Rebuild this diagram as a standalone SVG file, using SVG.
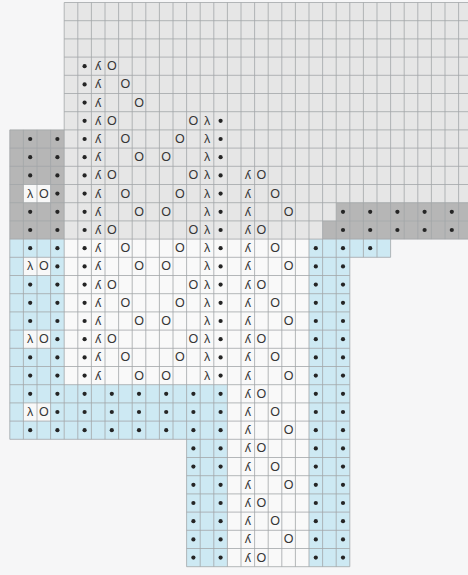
<svg xmlns="http://www.w3.org/2000/svg" xmlns:xlink="http://www.w3.org/1999/xlink" width="468" height="575" viewBox="0 0 468 575">
<style>
.s{font-family:"Liberation Sans","DejaVu Sans",sans-serif;font-size:12.5px;fill:#363636;text-anchor:middle;dominant-baseline:central}
.d{fill:#252525}
.gl{fill:none;stroke:#a2a6a8;stroke-width:0.8}
</style>
<defs>
<g id="A"><circle class="d" cx="84.6" r="2.1"/><text class="s" x="98.2">ʎ</text></g>
<g id="A2"><text class="s" x="207">λ</text><circle class="d" cx="220.6" r="2.1"/></g>
<g id="L"><circle class="d" cx="30.2" r="2.1"/><circle class="d" cx="57.4" r="2.1"/></g>
<g id="LW"><text class="s" x="30.2">λ</text><text class="s" x="43.8">O</text><circle class="d" cx="57.4" r="2.1"/></g>
<g id="B"><text class="s" x="247.8">ʎ</text></g>
<g id="R"><circle class="d" cx="315.8" r="2.1"/><circle class="d" cx="343" r="2.1"/></g>
<g id="D"><circle class="d" cx="84.6" r="2.1"/><circle class="d" cx="111.8" r="2.1"/><circle class="d" cx="139" r="2.1"/><circle class="d" cx="166.2" r="2.1"/><circle class="d" cx="193.4" r="2.1"/><circle class="d" cx="220.6" r="2.1"/></g>
<g id="DR"><circle class="d" cx="343" r="2.1"/><circle class="d" cx="370.2" r="2.1"/><circle class="d" cx="397.4" r="2.1"/><circle class="d" cx="424.6" r="2.1"/><circle class="d" cx="451.8" r="2.1"/></g>
</defs>
<rect width="468" height="575" fill="#f6f6f7"/>
<g id="chart-fills" transform="translate(9.8 2.5) scale(13.6 18.2)">
<polygon points="4,0 34,0 34,13 28,13 28,14 25,14 25,31 13,31 13,24 0,24 0,7 4,7" fill="#f9f9f9"/>
<rect x="4" y="0" width="30" height="13" fill="#e6e6e6"/>
<g fill="#b6b6b6">
<rect x="0" y="7" width="4" height="6"/>
<rect x="24" y="11" width="10" height="1"/>
<rect x="23" y="12" width="11" height="1"/>
</g>
<g fill="#cde9f3">
<rect x="0" y="13" width="4" height="11"/>
<rect x="4" y="21" width="12" height="3"/>
<rect x="13" y="24" width="3" height="7"/>
<rect x="22" y="13" width="3" height="18"/>
<rect x="25" y="13" width="3" height="1"/>
</g>
<g fill="#f8f8f8">
<rect x="1" y="10" width="2" height="1"/>
<rect x="1" y="14" width="2" height="1"/>
<rect x="1" y="18" width="2" height="1"/>
<rect x="1" y="22" width="2" height="1"/>
</g>
<path class="gl" vector-effect="non-scaling-stroke" d="M4 0H34M4 1H34M4 2H34M4 3H34M4 4H34M4 5H34M4 6H34M0 7H34M0 8H34M0 9H34M0 10H34M0 11H34M0 12H34M0 13H34M0 14H28M0 15H25M0 16H25M0 17H25M0 18H25M0 19H25M0 20H25M0 21H25M0 22H25M0 23H25M0 24H25M13 25H25M13 26H25M13 27H25M13 28H25M13 29H25M13 30H25M13 31H25M0 7V24M1 7V24M2 7V24M3 7V24M4 0V24M5 0V24M6 0V24M7 0V24M8 0V24M9 0V24M10 0V24M11 0V24M12 0V24M13 0V31M14 0V31M15 0V31M16 0V31M17 0V31M18 0V31M19 0V31M20 0V31M21 0V31M22 0V31M23 0V31M24 0V31M25 0V31M26 0V14M27 0V14M28 0V14M29 0V13M30 0V13M31 0V13M32 0V13M33 0V13M34 0V13"/>
</g>
<g id="symbols">
<g transform="translate(0 66.2)"><use href="#A"/><text class="s" x="111.8">O</text></g>
<g transform="translate(0 84.4)"><use href="#A"/><text class="s" x="125.4">O</text></g>
<g transform="translate(0 102.6)"><use href="#A"/><text class="s" x="139">O</text></g>
<g transform="translate(0 120.8)"><use href="#A"/><use href="#A2"/><text class="s" x="111.8">O</text><text class="s" x="193.4">O</text></g>
<g transform="translate(0 139)"><use href="#L"/><use href="#A"/><use href="#A2"/><text class="s" x="125.4">O</text><text class="s" x="179.8">O</text></g>
<g transform="translate(0 157.2)"><use href="#L"/><use href="#A"/><use href="#A2"/><text class="s" x="139">O</text><text class="s" x="166.2">O</text></g>
<g transform="translate(0 175.4)"><use href="#L"/><use href="#A"/><use href="#A2"/><text class="s" x="111.8">O</text><text class="s" x="193.4">O</text><use href="#B"/><text class="s" x="261.4">O</text></g>
<g transform="translate(0 193.6)"><use href="#LW"/><use href="#A"/><use href="#A2"/><text class="s" x="125.4">O</text><text class="s" x="179.8">O</text><use href="#B"/><text class="s" x="275">O</text></g>
<g transform="translate(0 211.8)"><use href="#L"/><use href="#A"/><use href="#A2"/><text class="s" x="139">O</text><text class="s" x="166.2">O</text><use href="#B"/><text class="s" x="288.6">O</text><use href="#DR"/></g>
<g transform="translate(0 230)"><use href="#L"/><use href="#A"/><use href="#A2"/><text class="s" x="111.8">O</text><text class="s" x="193.4">O</text><use href="#B"/><text class="s" x="261.4">O</text><use href="#DR"/></g>
<g transform="translate(0 248.2)"><use href="#L"/><use href="#A"/><use href="#A2"/><text class="s" x="125.4">O</text><text class="s" x="179.8">O</text><use href="#B"/><text class="s" x="275">O</text><use href="#R"/><circle class="d" cx="370.2" r="2.1"/></g>
<g transform="translate(0 266.4)"><use href="#LW"/><use href="#A"/><use href="#A2"/><text class="s" x="139">O</text><text class="s" x="166.2">O</text><use href="#B"/><text class="s" x="288.6">O</text><use href="#R"/></g>
<g transform="translate(0 284.6)"><use href="#L"/><use href="#A"/><use href="#A2"/><text class="s" x="111.8">O</text><text class="s" x="193.4">O</text><use href="#B"/><text class="s" x="261.4">O</text><use href="#R"/></g>
<g transform="translate(0 302.8)"><use href="#L"/><use href="#A"/><use href="#A2"/><text class="s" x="125.4">O</text><text class="s" x="179.8">O</text><use href="#B"/><text class="s" x="275">O</text><use href="#R"/></g>
<g transform="translate(0 321)"><use href="#L"/><use href="#A"/><use href="#A2"/><text class="s" x="139">O</text><text class="s" x="166.2">O</text><use href="#B"/><text class="s" x="288.6">O</text><use href="#R"/></g>
<g transform="translate(0 339.2)"><use href="#LW"/><use href="#A"/><use href="#A2"/><text class="s" x="111.8">O</text><text class="s" x="193.4">O</text><use href="#B"/><text class="s" x="261.4">O</text><use href="#R"/></g>
<g transform="translate(0 357.4)"><use href="#L"/><use href="#A"/><use href="#A2"/><text class="s" x="125.4">O</text><text class="s" x="179.8">O</text><use href="#B"/><text class="s" x="275">O</text><use href="#R"/></g>
<g transform="translate(0 375.6)"><use href="#L"/><use href="#A"/><use href="#A2"/><text class="s" x="139">O</text><text class="s" x="166.2">O</text><use href="#B"/><text class="s" x="288.6">O</text><use href="#R"/></g>
<g transform="translate(0 393.8)"><use href="#L"/><use href="#D"/><use href="#B"/><text class="s" x="261.4">O</text><use href="#R"/></g>
<g transform="translate(0 412)"><use href="#LW"/><use href="#D"/><use href="#B"/><text class="s" x="275">O</text><use href="#R"/></g>
<g transform="translate(0 430.2)"><use href="#L"/><use href="#D"/><use href="#B"/><text class="s" x="288.6">O</text><use href="#R"/></g>
<g transform="translate(0 448.4)"><circle class="d" cx="193.4" r="2.1"/><circle class="d" cx="220.6" r="2.1"/><use href="#B"/><text class="s" x="261.4">O</text><use href="#R"/></g>
<g transform="translate(0 466.6)"><circle class="d" cx="193.4" r="2.1"/><circle class="d" cx="220.6" r="2.1"/><use href="#B"/><text class="s" x="275">O</text><use href="#R"/></g>
<g transform="translate(0 484.8)"><circle class="d" cx="193.4" r="2.1"/><circle class="d" cx="220.6" r="2.1"/><use href="#B"/><text class="s" x="288.6">O</text><use href="#R"/></g>
<g transform="translate(0 503)"><circle class="d" cx="193.4" r="2.1"/><circle class="d" cx="220.6" r="2.1"/><use href="#B"/><text class="s" x="261.4">O</text><use href="#R"/></g>
<g transform="translate(0 521.2)"><circle class="d" cx="193.4" r="2.1"/><circle class="d" cx="220.6" r="2.1"/><use href="#B"/><text class="s" x="275">O</text><use href="#R"/></g>
<g transform="translate(0 539.4)"><circle class="d" cx="193.4" r="2.1"/><circle class="d" cx="220.6" r="2.1"/><use href="#B"/><text class="s" x="288.6">O</text><use href="#R"/></g>
<g transform="translate(0 557.6)"><circle class="d" cx="193.4" r="2.1"/><circle class="d" cx="220.6" r="2.1"/><use href="#B"/><text class="s" x="261.4">O</text><use href="#R"/></g>
</g>
</svg>
